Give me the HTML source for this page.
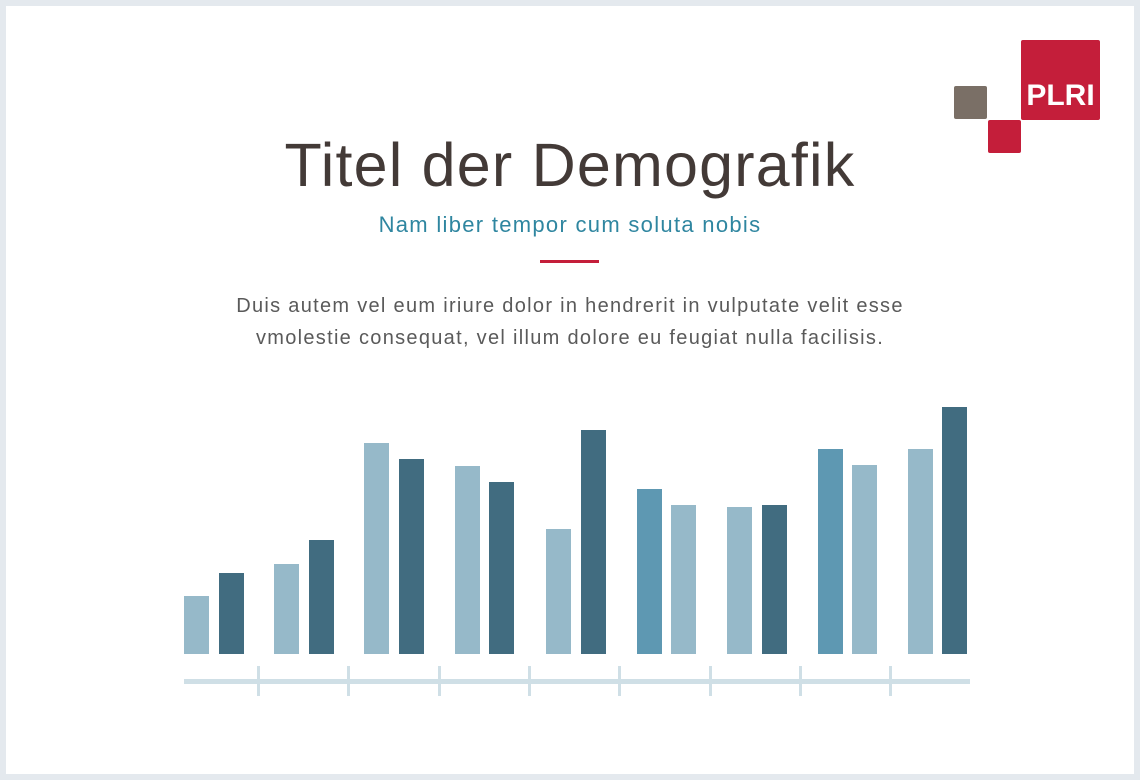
<!DOCTYPE html>
<html><head><style>
body{margin:0;width:1140px;height:780px;background:#e4e9ee;position:relative;overflow:hidden;font-family:"Liberation Sans",sans-serif}
.card{position:absolute;left:6px;top:6px;width:1128px;height:768px;background:#fff}
.a{position:absolute}
.t{position:absolute;left:0;width:1140px;text-align:center}
</style></head><body>
<div class="card"></div>
<div class="a" style="left:1021px;top:40px;width:79px;height:80px;background:#c41e3a;border-radius:2px"></div>
<div class="a" style="left:1021px;top:76px;width:79px;text-align:center;color:#fff;font-weight:bold;font-size:30px;line-height:40px">PLRI</div>
<div class="a" style="left:954px;top:86px;width:33px;height:33px;background:#7a6f66;border-radius:2px"></div>
<div class="a" style="left:988px;top:120px;width:33px;height:33px;background:#c41e3a;border-radius:2px"></div>
<div class="t" style="top:130px;font-size:61px;line-height:70px;color:#433a37;letter-spacing:1.2px">Titel der Demografik</div>
<div class="t" style="top:211px;font-size:22px;line-height:28px;color:#2f86a0;letter-spacing:1.3px">Nam liber tempor cum soluta nobis</div>
<div class="a" style="left:540px;top:260px;width:59px;height:3px;background:#c41e3a"></div>
<div class="t" style="top:290px;font-size:20px;line-height:32px;color:#5a5a5a;letter-spacing:1.3px">Duis autem vel eum iriure dolor in hendrerit in vulputate velit esse<br>vmolestie consequat, vel illum dolore eu feugiat nulla facilisis.</div>
<svg class="a" style="left:0;top:0" width="1140" height="780">
<g>
<rect x="184" y="596" width="25" height="58" fill="#96b9c9"/><rect x="219" y="573" width="25" height="81" fill="#416c80"/>
<rect x="274" y="564" width="25" height="90" fill="#96b9c9"/><rect x="309" y="540" width="25" height="114" fill="#416c80"/>
<rect x="364" y="443" width="25" height="211" fill="#96b9c9"/><rect x="399" y="459" width="25" height="195" fill="#416c80"/>
<rect x="455" y="466" width="25" height="188" fill="#96b9c9"/><rect x="489" y="482" width="25" height="172" fill="#416c80"/>
<rect x="546" y="529" width="25" height="125" fill="#96b9c9"/><rect x="581" y="430" width="25" height="224" fill="#416c80"/>
<rect x="637" y="489" width="25" height="165" fill="#5e98b2"/><rect x="671" y="505" width="25" height="149" fill="#96b9c9"/>
<rect x="727" y="507" width="25" height="147" fill="#96b9c9"/><rect x="762" y="505" width="25" height="149" fill="#416c80"/>
<rect x="818" y="449" width="25" height="205" fill="#5e98b2"/><rect x="852" y="465" width="25" height="189" fill="#96b9c9"/>
<rect x="908" y="449" width="25" height="205" fill="#96b9c9"/><rect x="942" y="407" width="25" height="247" fill="#416c80"/>
</g>
<rect x="184" y="679" width="786" height="5" fill="#cfdfe6"/>
<g fill="#cfdfe6">
<rect x="257" y="666" width="3" height="30"/><rect x="347" y="666" width="3" height="30"/><rect x="438" y="666" width="3" height="30"/><rect x="528" y="666" width="3" height="30"/><rect x="618" y="666" width="3" height="30"/><rect x="709" y="666" width="3" height="30"/><rect x="799" y="666" width="3" height="30"/><rect x="889" y="666" width="3" height="30"/>
</g>
</svg>
</body></html>
